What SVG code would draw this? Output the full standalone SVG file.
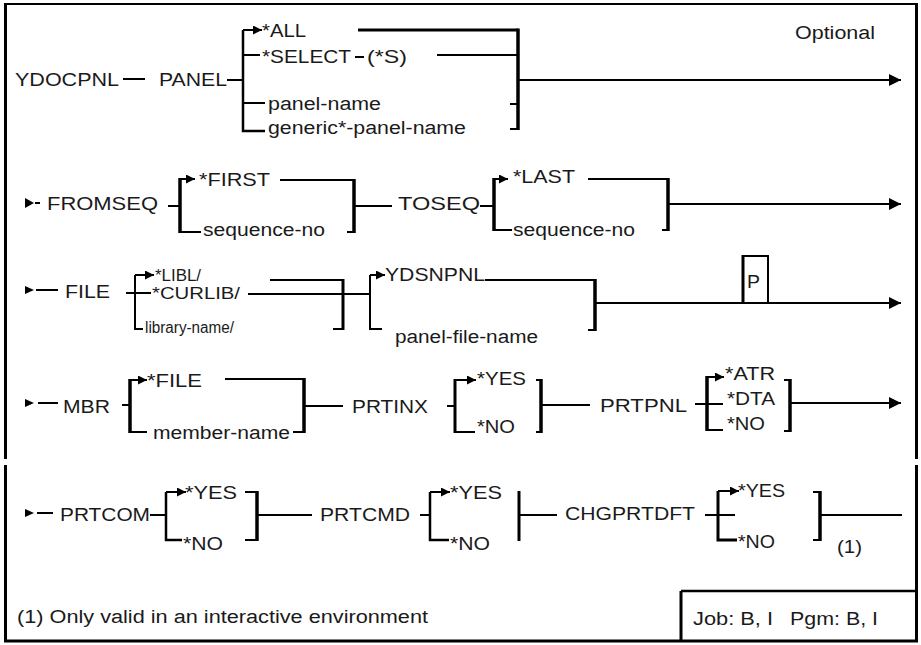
<svg xmlns="http://www.w3.org/2000/svg" width="921" height="645" viewBox="0 0 921 645">
<style>
.t{font-family:"Liberation Sans",Arial,sans-serif;font-size:18px;fill:#1a1a1a}
.s{font-size:16px}
.c{stroke:#000;stroke-width:2;fill:none}
.k{stroke:#000;stroke-width:3.5;fill:none}
.m{stroke:#000;stroke-width:2.5;fill:none}
.f{stroke:#000;stroke-width:3;fill:none}
.big{marker-end:url(#big)}
.sm{marker-end:url(#sm)}
.st{fill:#000}
</style>
<defs>
<marker id="big" viewBox="0 0 10 10" refX="10" refY="5" markerWidth="13" markerHeight="12" markerUnits="userSpaceOnUse" orient="auto"><path d="M0,0 L10,5 L0,10 z" fill="#000"/></marker>
<marker id="sm" viewBox="0 0 10 10" refX="10" refY="5" markerWidth="9" markerHeight="9" markerUnits="userSpaceOnUse" orient="auto"><path d="M0,0 L10,5 L0,10 z" fill="#000"/></marker>
</defs>
<rect x="0" y="0" width="921" height="645" fill="#fff"/>
<g id="frame">
<line class="c" x1="4" y1="4" x2="918" y2="4"/>
<line class="f" x1="5.5" y1="4" x2="5.5" y2="459"/>
<line class="f" x1="5.5" y1="465" x2="5.5" y2="642"/>
<line class="f" x1="916.5" y1="4" x2="916.5" y2="459"/>
<line class="f" x1="916.5" y1="465" x2="916.5" y2="642"/>
<line class="f" x1="4" y1="641" x2="918" y2="641"/>
<line class="f" x1="681" y1="591" x2="681" y2="641"/>
<line class="m" x1="681" y1="591" x2="918" y2="591"/>
</g>
<g id="connectors">
<!-- row 1 -->
<line class="c" x1="123" y1="79" x2="145" y2="79"/>
<line class="c" x1="227" y1="80" x2="243" y2="80"/>
<path class="m" d="M243,30 V131 H265"/>
<line class="c sm" x1="243" y1="30" x2="262" y2="30"/>
<line class="c" x1="243" y1="55" x2="260" y2="55"/>
<line class="c" x1="243" y1="103" x2="265" y2="103"/>
<line class="f" x1="358" y1="30" x2="518" y2="30"/>
<line class="c" x1="355" y1="57" x2="364" y2="57"/>
<line class="c" x1="437" y1="55" x2="518" y2="55"/>
<line class="k" x1="518" y1="28.5" x2="518" y2="130"/>
<line class="c" x1="510" y1="104" x2="518" y2="104"/>
<line class="c" x1="510" y1="129" x2="518" y2="129"/>
<line class="c big" x1="518" y1="80" x2="901" y2="80"/>
<!-- row 2 -->
<polygon class="st" points="25,198 34,203 25,208"/>
<line class="c" x1="35" y1="203" x2="40" y2="203"/>
<line class="c" x1="168" y1="206" x2="180" y2="206"/>
<line class="k" x1="180" y1="178" x2="180" y2="233"/>
<line class="c sm" x1="180" y1="179" x2="195" y2="179"/>
<line class="c" x1="180" y1="232" x2="201" y2="232"/>
<line class="c" x1="280" y1="180" x2="354" y2="180"/>
<line class="k" x1="354" y1="179" x2="354" y2="233"/>
<line class="c" x1="347" y1="232" x2="354" y2="232"/>
<line class="c" x1="354" y1="206" x2="392" y2="206"/>
<line class="c" x1="480" y1="206" x2="494" y2="206"/>
<line class="k" x1="494" y1="178" x2="494" y2="231"/>
<line class="c sm" x1="494" y1="179" x2="508" y2="179"/>
<line class="c" x1="494" y1="230" x2="512" y2="230"/>
<line class="c" x1="588" y1="179" x2="668" y2="179"/>
<line class="k" x1="668" y1="178" x2="668" y2="231"/>
<line class="c" x1="662" y1="230" x2="668" y2="230"/>
<line class="c big" x1="668" y1="204" x2="901" y2="204"/>
<!-- row 3 -->
<polygon class="st" points="25,286 34,290 25,294"/>
<line class="c" x1="36" y1="290" x2="58" y2="290"/>
<line class="c" x1="126" y1="293" x2="151" y2="293"/>
<path class="c" d="M135,275 V329 H143"/>
<line class="c sm" x1="135" y1="275" x2="154" y2="275"/>
<line class="c" x1="270" y1="280" x2="343" y2="280"/>
<line class="c" x1="248" y1="294" x2="343" y2="294"/>
<line class="f" x1="343" y1="279" x2="343" y2="330"/>
<line class="c" x1="333" y1="329" x2="343" y2="329"/>
<line class="c" x1="343" y1="294" x2="370" y2="294"/>
<path class="c" d="M370,275 V329 H382"/>
<line class="c sm" x1="370" y1="275" x2="385" y2="275"/>
<line class="c" x1="485" y1="280" x2="595" y2="280"/>
<line class="k" x1="595" y1="279" x2="595" y2="331"/>
<line class="c" x1="588" y1="330" x2="596" y2="330"/>
<line class="c big" x1="595" y1="303" x2="901" y2="303"/>
<line class="f" x1="743" y1="255" x2="743" y2="303"/>
<line class="c" x1="768" y1="256" x2="768" y2="303"/>
<line class="c" x1="742" y1="256" x2="769" y2="256"/>
<!-- row 4 -->
<polygon class="st" points="25,399 34,403 25,407"/>
<line class="c" x1="38" y1="403" x2="58" y2="403"/>
<line class="c" x1="122" y1="405" x2="130" y2="405"/>
<line class="k" x1="130" y1="379" x2="130" y2="433"/>
<line class="c sm" x1="130" y1="380" x2="147" y2="380"/>
<line class="c" x1="130" y1="432" x2="147" y2="432"/>
<line class="c" x1="225" y1="379" x2="304" y2="379"/>
<line class="k" x1="304" y1="378" x2="304" y2="433"/>
<line class="c" x1="293" y1="432" x2="304" y2="432"/>
<line class="c" x1="304" y1="406" x2="343" y2="406"/>
<line class="c" x1="447" y1="406" x2="455" y2="406"/>
<line class="f" x1="455" y1="379" x2="455" y2="433"/>
<line class="c sm" x1="455" y1="380" x2="476" y2="380"/>
<line class="c" x1="455" y1="432" x2="475" y2="432"/>
<line class="k" x1="541" y1="379" x2="541" y2="433"/>
<line class="c" x1="536" y1="380" x2="541" y2="380"/>
<line class="c" x1="536" y1="432" x2="541" y2="432"/>
<line class="c" x1="541" y1="405" x2="590" y2="405"/>
<line class="c" x1="695" y1="404" x2="723" y2="404"/>
<line class="k" x1="707" y1="376" x2="707" y2="431"/>
<line class="c sm" x1="707" y1="377" x2="724" y2="377"/>
<line class="c" x1="707" y1="430" x2="723" y2="430"/>
<line class="k" x1="790" y1="379" x2="790" y2="432"/>
<line class="c" x1="784" y1="380" x2="790" y2="380"/>
<line class="c" x1="784" y1="431" x2="790" y2="431"/>
<line class="c big" x1="790" y1="403" x2="901" y2="403"/>
<!-- row 5 -->
<polygon class="st" points="25,509 34,513 25,517"/>
<line class="c" x1="37" y1="513" x2="53" y2="513"/>
<line class="c" x1="150" y1="515" x2="166" y2="515"/>
<path class="m" d="M166,492 V540 H182"/>
<line class="c sm" x1="166" y1="492" x2="186" y2="492"/>
<line class="k" x1="257" y1="491" x2="257" y2="541"/>
<line class="c" x1="245" y1="492" x2="257" y2="492"/>
<line class="c" x1="245" y1="540" x2="257" y2="540"/>
<line class="c" x1="257" y1="515" x2="312" y2="515"/>
<line class="c" x1="420" y1="515" x2="430" y2="515"/>
<path class="m" d="M430,492 V540 H449"/>
<line class="c sm" x1="430" y1="492" x2="450" y2="492"/>
<line class="f" x1="519" y1="491" x2="519" y2="541"/>
<line class="c" x1="519" y1="515" x2="557" y2="515"/>
<line class="c" x1="705" y1="515" x2="735" y2="515"/>
<path class="f" d="M718,491 V540 H737"/>
<line class="c sm" x1="718" y1="491" x2="739" y2="491"/>
<line class="k" x1="820" y1="491" x2="820" y2="541"/>
<line class="c" x1="813" y1="492" x2="820" y2="492"/>
<line class="c" x1="813" y1="540" x2="820" y2="540"/>
<line class="c" x1="820" y1="515" x2="902" y2="515"/>
</g>
<g id="n-ydocpnl"><text class="t" x="15" y="86" textLength="104" lengthAdjust="spacingAndGlyphs">YDOCPNL</text></g>
<g id="n-panel"><text class="t" x="159" y="86" textLength="68" lengthAdjust="spacingAndGlyphs">PANEL</text></g>
<g id="n-all"><text class="t" x="262" y="37" textLength="44" lengthAdjust="spacingAndGlyphs">*ALL</text></g>
<g id="n-select"><text class="t" x="262" y="63" textLength="89" lengthAdjust="spacingAndGlyphs">*SELECT</text><text class="t" x="367" y="63" textLength="40" lengthAdjust="spacingAndGlyphs">(*S)</text></g>
<g id="n-panel-name"><text class="t" x="268" y="110" textLength="113" lengthAdjust="spacingAndGlyphs">panel-name</text></g>
<g id="n-generic"><text class="t" x="268" y="134" textLength="198" lengthAdjust="spacingAndGlyphs">generic*-panel-name</text></g>
<g id="n-optional"><text class="t" x="795" y="39" textLength="80" lengthAdjust="spacingAndGlyphs">Optional</text></g>
<g id="n-fromseq"><text class="t" x="47" y="210" textLength="111" lengthAdjust="spacingAndGlyphs">FROMSEQ</text></g>
<g id="n-first"><text class="t" x="199" y="186" textLength="71" lengthAdjust="spacingAndGlyphs">*FIRST</text></g>
<g id="n-seq1"><text class="t" x="203" y="236" textLength="122" lengthAdjust="spacingAndGlyphs">sequence-no</text></g>
<g id="n-toseq"><text class="t" x="398" y="210" textLength="82" lengthAdjust="spacingAndGlyphs">TOSEQ</text></g>
<g id="n-last"><text class="t" x="513" y="183" textLength="62" lengthAdjust="spacingAndGlyphs">*LAST</text></g>
<g id="n-seq2"><text class="t" x="513" y="236" textLength="122" lengthAdjust="spacingAndGlyphs">sequence-no</text></g>
<g id="n-file"><text class="t" x="65" y="298" textLength="45" lengthAdjust="spacingAndGlyphs">FILE</text></g>
<g id="n-libl"><text class="t s" x="155" y="281" textLength="46" lengthAdjust="spacingAndGlyphs">*LIBL/</text></g>
<g id="n-curlib"><text class="t s" x="152" y="299" textLength="88" lengthAdjust="spacingAndGlyphs">*CURLIB/</text></g>
<g id="n-libname"><text class="t s" x="145" y="333" textLength="89" lengthAdjust="spacingAndGlyphs">library-name/</text></g>
<g id="n-ydsnpnl"><text class="t" x="385" y="281" textLength="100" lengthAdjust="spacingAndGlyphs">YDSNPNL</text></g>
<g id="n-pfname"><text class="t" x="395" y="343" textLength="143" lengthAdjust="spacingAndGlyphs">panel-file-name</text></g>
<g id="n-p"><text class="t" x="747" y="288" textLength="13" lengthAdjust="spacingAndGlyphs">P</text></g>
<g id="n-mbr"><text class="t" x="63" y="413" textLength="47" lengthAdjust="spacingAndGlyphs">MBR</text></g>
<g id="n-mfile"><text class="t" x="147" y="387" textLength="55" lengthAdjust="spacingAndGlyphs">*FILE</text></g>
<g id="n-mname"><text class="t" x="153" y="439" textLength="137" lengthAdjust="spacingAndGlyphs">member-name</text></g>
<g id="n-prtinx"><text class="t" x="352" y="413" textLength="76" lengthAdjust="spacingAndGlyphs">PRTINX</text></g>
<g id="n-inx-yes"><text class="t" x="477" y="385" textLength="49" lengthAdjust="spacingAndGlyphs">*YES</text></g>
<g id="n-inx-no"><text class="t" x="477" y="433" textLength="38" lengthAdjust="spacingAndGlyphs">*NO</text></g>
<g id="n-prtpnl"><text class="t" x="600" y="412" textLength="87" lengthAdjust="spacingAndGlyphs">PRTPNL</text></g>
<g id="n-atr"><text class="t" x="725" y="380" textLength="50" lengthAdjust="spacingAndGlyphs">*ATR</text></g>
<g id="n-dta"><text class="t" x="727" y="405" textLength="48" lengthAdjust="spacingAndGlyphs">*DTA</text></g>
<g id="n-pnl-no"><text class="t" x="727" y="430" textLength="38" lengthAdjust="spacingAndGlyphs">*NO</text></g>
<g id="n-prtcom"><text class="t" x="60" y="521" textLength="90" lengthAdjust="spacingAndGlyphs">PRTCOM</text></g>
<g id="n-com-yes"><text class="t" x="185" y="499" textLength="52" lengthAdjust="spacingAndGlyphs">*YES</text></g>
<g id="n-com-no"><text class="t" x="183" y="550" textLength="40" lengthAdjust="spacingAndGlyphs">*NO</text></g>
<g id="n-prtcmd"><text class="t" x="320" y="521" textLength="90" lengthAdjust="spacingAndGlyphs">PRTCMD</text></g>
<g id="n-cmd-yes"><text class="t" x="450" y="499" textLength="52" lengthAdjust="spacingAndGlyphs">*YES</text></g>
<g id="n-cmd-no"><text class="t" x="450" y="550" textLength="40" lengthAdjust="spacingAndGlyphs">*NO</text></g>
<g id="n-chgprtdft"><text class="t" x="565" y="520" textLength="130" lengthAdjust="spacingAndGlyphs">CHGPRTDFT</text></g>
<g id="n-dft-yes"><text class="t" x="738" y="497" textLength="47" lengthAdjust="spacingAndGlyphs">*YES</text></g>
<g id="n-dft-no"><text class="t" x="738" y="548" textLength="37" lengthAdjust="spacingAndGlyphs">*NO</text></g>
<g id="n-note-ref"><text class="t" x="837" y="553" textLength="25" lengthAdjust="spacingAndGlyphs">(1)</text></g>
<g id="n-footnote"><text class="t" x="17" y="623" textLength="411" lengthAdjust="spacingAndGlyphs">(1) Only valid in an interactive environment</text></g>
<g id="n-jobpgm"><text class="t" x="693" y="625" textLength="80" lengthAdjust="spacingAndGlyphs">Job: B, I</text><text class="t" x="790" y="625" textLength="88" lengthAdjust="spacingAndGlyphs">Pgm: B, I</text></g>
</svg>
